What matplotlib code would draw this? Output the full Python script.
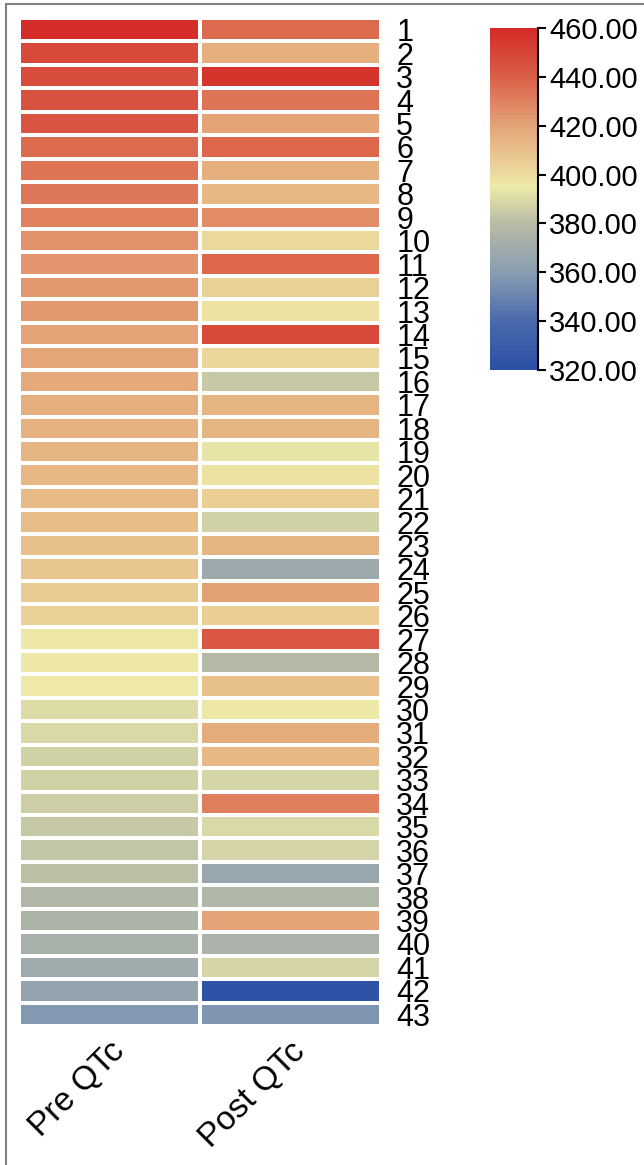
import numpy as np
import matplotlib
matplotlib.use("Agg")
import matplotlib.pyplot as plt
from matplotlib.colors import LinearSegmentedColormap
from matplotlib.patches import Rectangle
from matplotlib.transforms import ScaledTranslation

plt.rcParams['font.family'] = ['Liberation Sans', 'DejaVu Sans']

columns = ['Pre QTc', 'Post QTc']
patients = [str(i) for i in range(1, 44)]

pre_qtc = [458, 448, 447, 445, 444, 437, 434, 433, 430, 425,
           424, 423, 423, 420, 419, 418, 416, 415, 414, 413,
           412, 411, 410, 408, 406, 404, 396, 396, 395, 390,
           389, 387, 387, 386, 384, 383, 381, 377, 375, 373,
           369, 364, 358]
post_qtc = [437, 416, 456, 434, 420, 438, 416, 413, 427, 401,
            438, 404, 398, 448, 402, 384, 414, 414, 393, 398,
            405, 387, 414, 368, 421, 405, 443, 378, 410, 396,
            417, 413, 388, 431, 389, 388, 366, 377, 420, 374,
            388, 322, 357]

vmin, vmax = 320, 460
cbar_ticks = np.arange(320, 461, 20)

# blue -> grey -> pale yellow -> orange -> red
stops = [320, 340, 360, 380, 395, 420, 440, 460]
stop_colors = ['#2a50a5', '#4a6aac', '#8a9db2', '#b8bca5',
               '#eeeaa8', '#e4a478', '#db6048', '#d42a27']
cmap = LinearSegmentedColormap.from_list(
    'qtc', [((s - vmin) / (vmax - vmin), c) for s, c in zip(stops, stop_colors)])

data = np.column_stack([pre_qtc, post_qtc])

W, H = 644, 1165
fig = plt.figure(figsize=(W / 100, H / 100), dpi=100)

def px_axes(left, top, right, bottom):
    return fig.add_axes([left / W, 1 - bottom / H, (right - left) / W, (bottom - top) / H])

ax = px_axes(19, 18, 381, 1026)
mesh = ax.pcolormesh(data, cmap=cmap, vmin=vmin, vmax=vmax,
                     edgecolor='white', linewidth=1.6)
ax.set_xlim(0, 2)
ax.set_ylim(len(patients), 0)
for s in ax.spines.values():
    s.set_visible(False)

ax.yaxis.tick_right()
ax.set_yticks(np.arange(len(patients)) + 0.5)
ax.set_yticklabels(patients, fontsize=22)
ax.tick_params(axis='y', length=0, pad=11)

ax.set_xticks([0.5, 1.5])
ax.set_xticklabels(columns, fontsize=24, rotation=45, ha='right', va='center',
                   rotation_mode='anchor')
ax.tick_params(axis='x', length=0, pad=15)
shift = ScaledTranslation(10 / 100, 0, fig.dpi_scale_trans)
for lab in ax.get_xticklabels():
    lab.set_transform(lab.get_transform() + shift)

# colour key
cax = px_axes(490, 28, 538, 370)
cb = fig.colorbar(mesh, cax=cax, ticks=cbar_ticks)
cb.outline.set_visible(False)
cax.plot([1, 1], [0, 1], transform=cax.transAxes, color='black', lw=1.5, clip_on=False)
cax.set_yticklabels([f'{t:.2f}' for t in cbar_ticks], fontsize=21)
cax.tick_params(axis='y', length=6, width=1.5, pad=2)

# outer frame
fig.patches.append(Rectangle((6 / W, -0.01), 1.0, 1 - 4 / H + 0.01,
                             transform=fig.transFigure, fill=False,
                             edgecolor='#808080', lw=1.5))

fig.savefig('out.png', dpi=100)
